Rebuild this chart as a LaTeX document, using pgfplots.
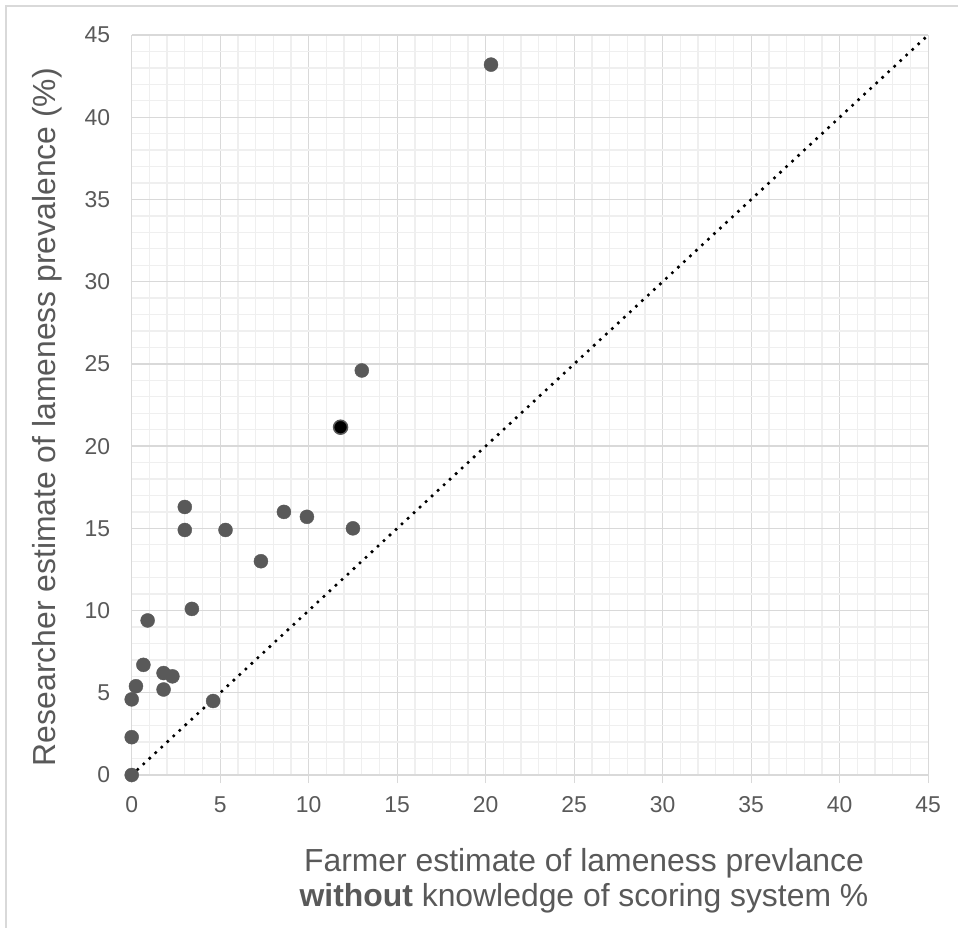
\documentclass[border=0pt]{standalone}
\usepackage{pgfplots}
\pgfplotsset{compat=1.18}
\usepackage{fontspec}
\setmainfont{Liberation Sans}
\definecolor{txt}{HTML}{595959}
\definecolor{majg}{HTML}{D9D9D9}
\definecolor{ming}{HTML}{EFEFEF}
\definecolor{dotc}{HTML}{595959}
\begin{document}
\begin{tikzpicture}
\path[use as bounding box] (0bp,0bp) rectangle (958bp,-928bp);
\draw[majg, line width=1.3bp] (6bp,-928bp) -- (6bp,-6bp) -- (958bp,-6bp);
\begin{axis}[
  at={(131.7bp,-775bp)}, anchor=south west,
  scale only axis, width=796.5bp, height=740bp,
  xmin=0, xmax=45, ymin=0, ymax=45,
  xtick={0,5,...,45}, ytick={0,5,...,45},
  minor x tick num=4, minor y tick num=4,
  grid=both,
  major grid style={majg, line width=1.3bp},
  minor grid style={ming, line width=1.3bp},
  axis line style={draw=none},
  tick align=outside,
  xtick pos=bottom, ytick pos=left,
  major x tick style={majg, line width=1.3bp},
  major y tick style={draw=none},
  minor tick length=0pt,
  major tick length=8bp,
  /pgf/number format/assume math mode=true,
  tick label style={font=\fontsize{23}{27}\selectfont, text=txt},
  xticklabel style={anchor=center, yshift=-22bp},
  yticklabel style={anchor=east, xshift=-10bp},
  clip=false,
]
\draw[majg, line width=1.3bp] (rel axis cs:0,0) -- (rel axis cs:1,0);
\addplot[black, line width=3.6bp, line cap=round, dash pattern=on 0bp off 8.2bp] coordinates {(0,0) (45,45)};
\addplot[only marks, mark=*, mark size=7bp, mark options={fill=dotc, draw=dotc}] coordinates {
(0,0) (0,2.3) (0,4.6) (0.24,5.4) (0.66,6.7) (0.9,9.4) (1.8,6.2) (2.3,6.0) (1.8,5.2) (4.6,4.5)
(3.4,10.1) (3.0,16.3) (3.0,14.9) (5.3,14.9) (7.3,13.0) (8.6,16.0) (9.9,15.7) (12.5,15.0)
(13.0,24.6) (20.3,43.2)
};
\addplot[only marks, mark=*, mark size=7bp, mark options={fill=black, draw=dotc, line width=1.5bp}] coordinates {(11.8,21.15)};
\end{axis}
\node[rotate=90, text=txt, font=\fontsize{32}{38}\selectfont] at (47bp,-417bp) {Researcher estimate of lameness prevalence (\%)};
\node[text=txt, font=\fontsize{32}{35}\selectfont, align=center] at (584bp,-881bp) {Farmer estimate of lameness prevlance\\\textbf{without} knowledge of scoring system \%};
\end{tikzpicture}
\end{document}
